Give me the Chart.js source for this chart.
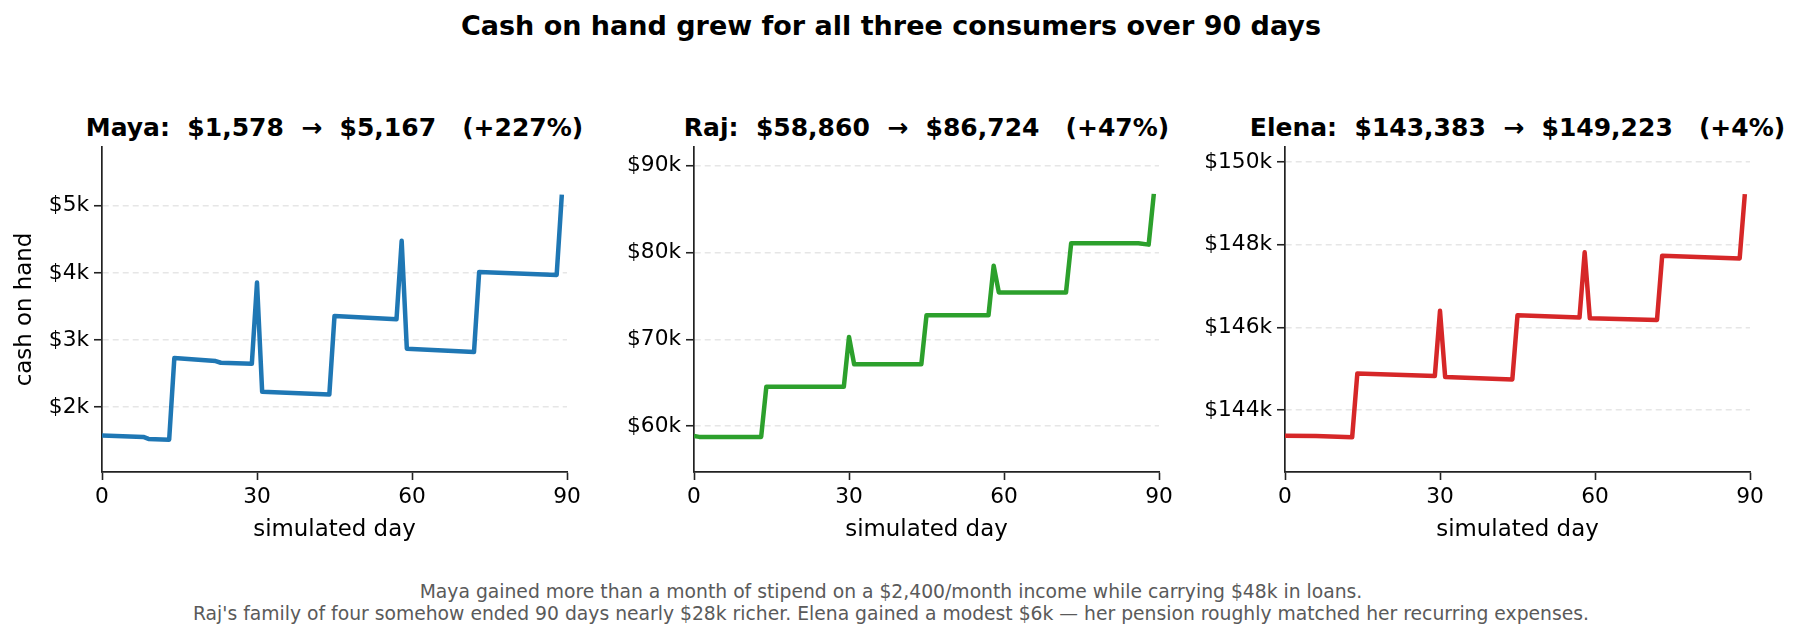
<!DOCTYPE html>
<html>
<head>
<meta charset="utf-8">
<script src="https://cdn.jsdelivr.net/npm/chart.js@4"></script>
<style>
  body { margin: 0; background: #fff; width: 1801px; height: 637px; position: relative; overflow: hidden; font-family: "DejaVu Sans", sans-serif; }
  .txt { position: absolute; white-space: pre; transform: translate(-50%, -50%); color: #000; }
  .panel { position: absolute; top: 100px; height: 460px; }
</style>
</head>
<body>

<div class="txt" style="left:891px; top:25px; font-size:27px; font-weight:bold;">Cash on hand grew for all three consumers over 90 days</div>

<div class="txt" id="t0" style="top:127px; font-size:25px; font-weight:bold;"></div>
<div class="txt" id="t1" style="top:127px; font-size:25px; font-weight:bold;"></div>
<div class="txt" id="t2" style="top:127px; font-size:25px; font-weight:bold;"></div>

<div class="panel" id="p0"><canvas id="c0"></canvas></div>
<div class="panel" id="p1"><canvas id="c1"></canvas></div>
<div class="panel" id="p2"><canvas id="c2"></canvas></div>

<div class="txt" style="left:891px; top:591px; font-size:18.75px; color:#5a5a5a;">Maya gained more than a month of stipend on a $2,400/month income while carrying $48k in loans.</div>
<div class="txt" style="left:891px; top:613px; font-size:18.75px; color:#5a5a5a;">Raj's family of four somehow ended 90 days nearly $28k richer. Elena gained a modest $6k — her pension roughly matched her recurring expenses.</div>

<script>
// valores (días donde cambia la pendiente)
const mayaDays  = [0, 8, 9, 13, 14, 22, 23, 29, 30, 31, 44, 45, 57, 58, 59, 72, 73, 88, 89];
const mayaCash  = [1578, 1557, 1527, 1517, 2731, 2687, 2662, 2647, 3856, 2229, 2189, 3358, 3308, 4478, 2871, 2821, 4015, 3970, 5167];

const rajDays   = [0, 1, 13, 14, 29, 30, 31, 44, 45, 57, 58, 59, 72, 73, 86, 88, 89];
const rajCash   = [58860, 58770, 58770, 64540, 64540, 70270, 67115, 67115, 72770, 72770, 78460, 75385, 75385, 81040, 81040, 80885, 86724];

const elenaDays = [0, 6, 13, 14, 29, 30, 31, 44, 45, 57, 58, 59, 72, 73, 88, 89];
const elenaCash = [143383, 143375, 143345, 144889, 144825, 146401, 144800, 144744, 146296, 146239, 147816, 146223, 146183, 147735, 147670, 149223];

const dayTicks   = [0, 30, 60, 90];
const mayaTicks  = [2000, 3000, 4000, 5000];
const rajTicks   = [60000, 70000, 80000, 90000];
const elenaTicks = [144000, 146000, 148000, 150000];

const titles = [
    "Maya:  $1,578  →  $5,167   (+227%)",
    "Raj:  $58,860  →  $86,724   (+47%)",
    "Elena:  $143,383  →  $149,223   (+4%)"
];

const panels = [
    { days: mayaDays,  cash: mayaCash,  ticks: mayaTicks,  min: 1035,   max: 5875,   color: "#1f77b4", left: 102,  right: 567,  ylabel: "cash on hand" },
    { days: rajDays,   cash: rajCash,   ticks: rajTicks,   min: 54730,  max: 92115,  color: "#2ca02c", left: 694,  right: 1159, ylabel: "" },
    { days: elenaDays, cash: elenaCash, ticks: elenaTicks, min: 142504, max: 150364, color: "#d62728", left: 1285, right: 1750, ylabel: "" }
];

const AXIS_W = 100;
const PAD_R = 20;
const PLOT_TOP = 47;     // dentro del canvas
const PLOT_H = 325;
const CANVAS_H = 460;

const tickFont = { family: "DejaVu Sans", size: 21.7 };
const labelFont = { family: "DejaVu Sans", size: 22.9 };

panels.forEach((p, i) => {

    const box = document.getElementById("p" + i);
    box.style.left = (p.left - AXIS_W) + "px";
    box.style.width = (p.right - p.left + AXIS_W + PAD_R) + "px";

    const t = document.getElementById("t" + i);
    t.textContent = titles[i];
    t.style.left = ((p.left + p.right) / 2) + "px";

    const puntos = p.days.map((d, k) => ({ x: d, y: p.cash[k] }));

    new Chart(document.getElementById("c" + i), {
        type: "line",
        data: {
            datasets: [{
                data: puntos,
                borderColor: p.color,
                borderWidth: 4.5,
                pointRadius: 0,
                tension: 0,
                borderJoinStyle: "round",
                borderCapStyle: "butt",
                fill: false
            }]
        },
        options: {
            responsive: true,
            maintainAspectRatio: false,
            animation: false,
            layout: { padding: { top: PLOT_TOP, right: PAD_R, left: 0, bottom: 0 } },
            plugins: { legend: { display: false }, tooltip: { enabled: false }, title: { display: false } },
            scales: {
                x: {
                    type: "linear",
                    min: 0,
                    max: 90,
                    afterBuildTicks: s => { s.ticks = dayTicks.map(v => ({ value: v })); },
                    afterFit: s => { s.height = CANVAS_H - PLOT_TOP - PLOT_H; },
                    grid: { drawOnChartArea: false, drawTicks: true, tickLength: 8, tickWidth: 1.6, tickColor: "#222" },
                    border: { display: true, color: "#222", width: 1.7 },
                    ticks: { color: "#000", font: tickFont, padding: 4, maxRotation: 0 },
                    title: { display: true, text: "simulated day", color: "#000", font: labelFont, padding: { top: 0, bottom: 16 } }
                },
                y: {
                    min: p.min,
                    max: p.max,
                    afterBuildTicks: s => { s.ticks = p.ticks.map(v => ({ value: v })); },
                    afterFit: s => { s.width = AXIS_W; },
                    grid: { color: "#e6e6e6", lineWidth: 1.5, drawTicks: true, tickLength: 8, tickWidth: 1.6, tickColor: "#222" },
                    border: { display: true, color: "#222", width: 1.7, dash: [6, 4] },
                    ticks: { color: "#000", font: tickFont, padding: 5, callback: v => "$" + (v / 1000) + "k" },
                    title: { display: p.ylabel !== "", text: p.ylabel, color: "#000", font: labelFont, padding: { top: 9, bottom: 0 } }
                }
            }
        }
    });
});
</script>
</body>
</html>
